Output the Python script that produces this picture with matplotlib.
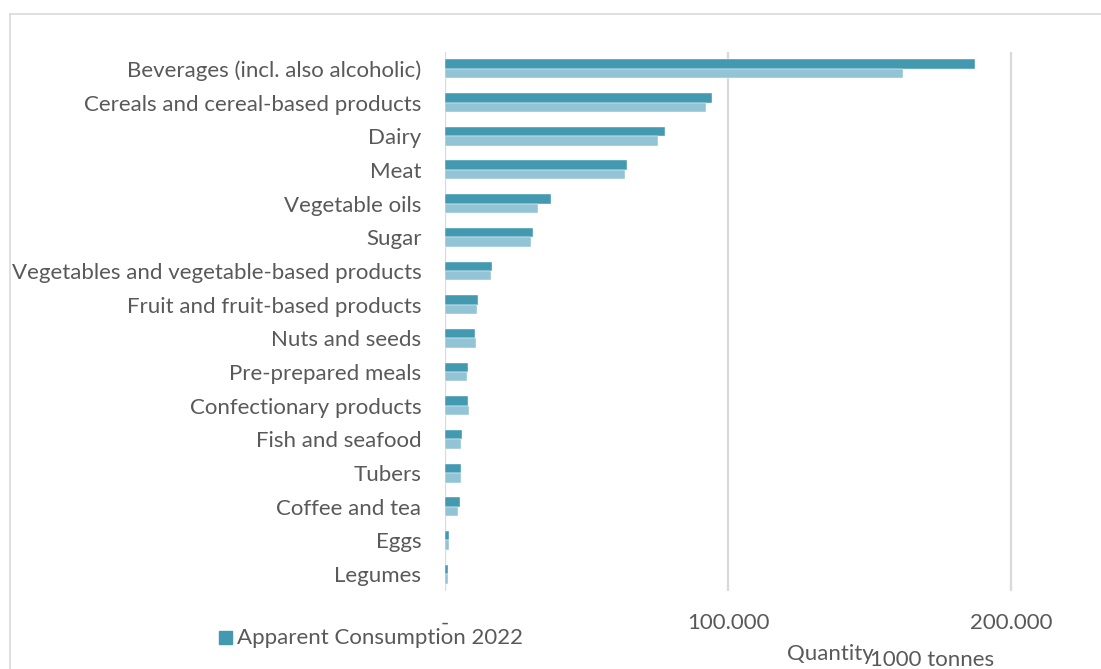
import matplotlib
matplotlib.use("Agg")
import matplotlib.pyplot as plt
from matplotlib.lines import Line2D
from matplotlib.patches import Rectangle

categories = [
    "Beverages (incl. also alcoholic)",
    "Cereals and cereal-based products",
    "Dairy",
    "Meat",
    "Vegetable oils",
    "Sugar",
    "Vegetables and vegetable-based products",
    "Fruit and fruit-based products",
    "Nuts and seeds",
    "Pre-prepared meals",
    "Confectionary products",
    "Fish and seafood",
    "Tubers",
    "Coffee and tea",
    "Eggs",
    "Legumes",
]
consumption_2022 = [187100, 94300, 77600, 64400, 37400, 31200, 16600, 11700,
                    10600, 8100, 8100, 5900, 5500, 5300, 1300, 1050]
consumption_prev = [161800, 92100, 75100, 63700, 32900, 30200, 16400, 11400,
                    11000, 7700, 8500, 5650, 5500, 4500, 1400, 950]
x_ticks = [0, 100000, 200000]
x_tick_labels = ["-", "100.000", "200.000"]
legend_label = "Apparent Consumption 2022"

DARK = "#4299B0"
LIGHT = "#93C4D5"
GRID = "#D9D9D9"
TEXT = "#595959"
FONT = "Lato"
FS = 16

W, H = 1101, 669
fig = plt.figure(figsize=(W / 100, H / 100), dpi=100)
fig.patch.set_facecolor("white")

def px(x, y):
    return x / W, 1 - y / H

# outer chart frame (runs off the right and bottom edges)
fig.add_artist(Line2D([10 / W, 1.0], [1 - 14 / H] * 2, color=GRID, lw=1.2))
fig.add_artist(Line2D([10 / W] * 2, [1 - 14 / H, 0.0], color=GRID, lw=1.2))

left, right, top, bottom = 445, 1068, 52, 591
ax = fig.add_axes([left / W, 1 - bottom / H, (right - left) / W, (bottom - top) / H])

n = len(categories)
pos = list(range(n))
bh = 0.28
ax.barh([p - bh / 2 for p in pos], consumption_2022, height=bh, color=DARK,
        edgecolor="white", linewidth=0.3, zorder=3)
ax.barh([p + bh / 2 for p in pos], consumption_prev, height=bh, color=LIGHT,
        edgecolor="white", linewidth=0.3, zorder=3)

ax.set_ylim(n - 0.5, -0.5)
ax.set_xlim(0, 220000)
ax.set_yticks(pos)
ax.set_yticklabels(categories, fontsize=FS, color=TEXT, family=FONT)
ax.tick_params(axis="y", length=0, pad=17)

ax.set_xticks(x_ticks)
ax.set_xticklabels(x_tick_labels, fontsize=FS, color=TEXT, family=FONT)
ax.tick_params(axis="x", length=0, pad=16)

for s in ax.spines.values():
    s.set_visible(False)
ax.grid(axis="x", color=GRID, lw=1.6, zorder=0)
ax.set_axisbelow(True)

# legend entry
fig.add_artist(Rectangle(px(219, 644), 13 / W, 13 / H, color=DARK,
                         transform=fig.transFigure))
fig.text(*px(237, 638), legend_label, fontsize=FS, color=TEXT, family=FONT,
         va="center", ha="left")

# axis title pieces
fig.text(*px(787, 660), "Quantity", fontsize=FS, color=TEXT, family=FONT,
         va="baseline", ha="left")
fig.text(*px(870, 666), "1000 tonnes", fontsize=FS, color=TEXT, family=FONT,
         va="baseline", ha="left")

fig.savefig("out.png", dpi=100, facecolor="white")
